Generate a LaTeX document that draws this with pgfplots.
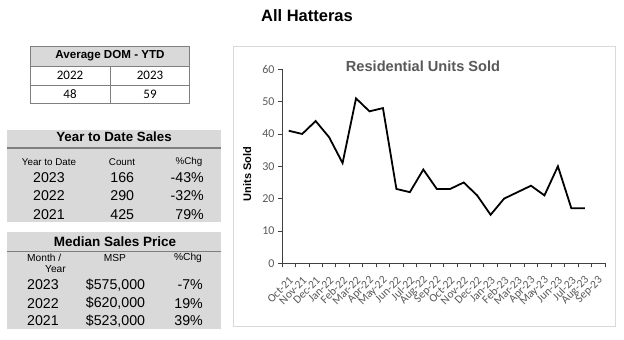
\documentclass[border=0pt]{standalone}
\usepackage{pgfplots}
\pgfplotsset{compat=1.18}
\usepackage{fontspec}
\setmainfont{Liberation Sans}
\newfontfamily\calibri{Carlito}
\definecolor{tblgray}{HTML}{D9D9D9}
\definecolor{linegray}{HTML}{7F7F7F}
\definecolor{txtgray}{HTML}{595959}
\definecolor{axgray}{HTML}{404040}
\definecolor{framegray}{HTML}{D9D9D9}
\newcommand{\fs}[1]{\fontsize{#1bp}{#1bp}\selectfont}
\begin{document}
\begin{tikzpicture}[x=1bp,y=1bp]
\useasboundingbox[fill=white] (0,0) rectangle (624,339);
% main title
\node[font=\bfseries\fs{16.5}] at (307,323) {All Hatteras};
% ---- DOM table
\fill[tblgray] (30,293) rectangle (189,273);
\draw[linegray,line width=0.9bp] (30,293) rectangle (189,236);
\draw[linegray,line width=0.9bp] (30,273)--(189,273) (30,254)--(189,254) (110,273)--(110,236);
\node[font=\bfseries\fs{11.6}] at (110,283) {Average DOM - YTD};
\node[font=\calibri\fs{13}] at (70,264) {2022};
\node[font=\calibri\fs{13}] at (150,264) {2023};
\node[font=\calibri\fs{13}] at (70,245) {48};
\node[font=\calibri\fs{13}] at (150,245) {59};
% ---- YTD table
\fill[tblgray] (7,209) rectangle (221,117);
\draw[linegray,line width=1.4bp] (7,191)--(221,191);
\node[font=\bfseries\fs{13.3}] at (114,202) {Year to Date Sales};
\node[font=\fs{9.8}] at (49,177.3) {Year to Date};
\node[font=\fs{9.8}] at (122,177.3) {Count};
\node[font=\fs{9.8}] at (189,177.3) {\%Chg};
\node[font=\fs{14.2}] at (49,161.7) {2023};
\node[font=\fs{14.2}] at (122.3,161.7) {166};
\node[font=\fs{14.2},anchor=east,inner sep=0pt] at (204,161.7) {-43\%};
\node[font=\fs{14.2}] at (49,143) {2022};
\node[font=\fs{14.2}] at (122.3,143) {290};
\node[font=\fs{14.2},anchor=east,inner sep=0pt] at (204,143) {-32\%};
\node[font=\fs{14.2}] at (49,124.7) {2021};
\node[font=\fs{14.2}] at (122.3,124.7) {425};
\node[font=\fs{14.2},anchor=east,inner sep=0pt] at (204,124.7) {79\%};
% ---- Median table
\fill[tblgray] (7,107.3) rectangle (221,10);
\draw[linegray,line width=1.4bp] (7,87.3)--(221,87.3);
\node[font=\bfseries\fs{13.5}] at (115,97.3) {Median Sales Price};
\node[font=\fs{10.2},anchor=west,inner sep=0pt] at (27,80.7) {Month /};
\node[font=\fs{10.2},anchor=east,inner sep=0pt] at (66,70) {Year};
\node[font=\fs{10.2}] at (115,80.7) {MSP};
\node[font=\fs{10.2}] at (188,80.7) {\%Chg};
\node[font=\fs{14.2},anchor=west,inner sep=0pt] at (27,54) {2023};
\node[font=\fs{14.2}] at (115.5,54) {\$575,000};
\node[font=\fs{14.2},anchor=east,inner sep=0pt] at (203,54) {-7\%};
\node[font=\fs{14.2},anchor=west,inner sep=0pt] at (27,35.7) {2022};
\node[font=\fs{14.2}] at (115.5,35.7) {\$620,000};
\node[font=\fs{14.2},anchor=east,inner sep=0pt] at (203,35.7) {19\%};
\node[font=\fs{14.2},anchor=west,inner sep=0pt] at (27,18) {2021};
\node[font=\fs{14.2}] at (115.5,18) {\$523,000};
\node[font=\fs{14.2},anchor=east,inner sep=0pt] at (203,18) {39\%};
% ---- chart frame
\draw[framegray,line width=1bp] (233,12.5) rectangle (615.5,292.5);
\node[font=\bfseries\fs{14.6},text=txtgray] at (423,273) {Residential Units Sold};
\begin{axis}[
  at={(282bp,75.7bp)}, anchor=south west,
  scale only axis, width=323bp, height=194bp,
  xmin=-0.5, xmax=23.5, ymin=0, ymax=60,
  axis lines*=left,
  axis line style={axgray,line width=0.8bp},
  ytick={0,10,...,60},
  xtick={0,...,23},
  xticklabels={Oct-21,Nov-21,Dec-21,Jan-22,Feb-22,Mar-22,Apr-22,May-22,Jun-22,Jul-22,Aug-22,Sep-22,Oct-22,Nov-22,Dec-22,Jan-23,Feb-23,Mar-23,Apr-23,May-23,Jun-23,Jul-23,Aug-23,Sep-23},
  minor xtick={-0.5,0.5,...,23.5},
  major x tick style={draw=none},
  minor x tick style={axgray,line width=0.8bp},
  y tick style={axgray,line width=0.8bp},
  tick align=outside,
  major tick length=4bp, minor tick length=4bp,
  /pgf/number format/assume math mode=true,
  x tick label style={yshift=-11bp,xshift=3bp,rotate=45,anchor=east,font=\calibri\fs{11.5},text=txtgray,inner sep=0.5bp},
  y tick label style={font=\calibri\fs{12},text=txtgray},
  ylabel={Units Sold},
  every axis y label/.style={at={(axis description cs:-0.108,0.46)},anchor=center,rotate=90,font=\bfseries\fs{11}},
  clip=false,
]
\addplot[black,line width=1.8bp,mark=none] coordinates {
(0,41)(1,40)(2,44)(3,39)(4,31)(5,51)(6,47)(7,48)(8,23)(9,22)(10,29)(11,23)(12,23)(13,25)(14,21)(15,15)(16,20)(17,22)(18,24)(19,21)(20,30)(21,17)(22,17)
};
\end{axis}
\end{tikzpicture}
\end{document}
